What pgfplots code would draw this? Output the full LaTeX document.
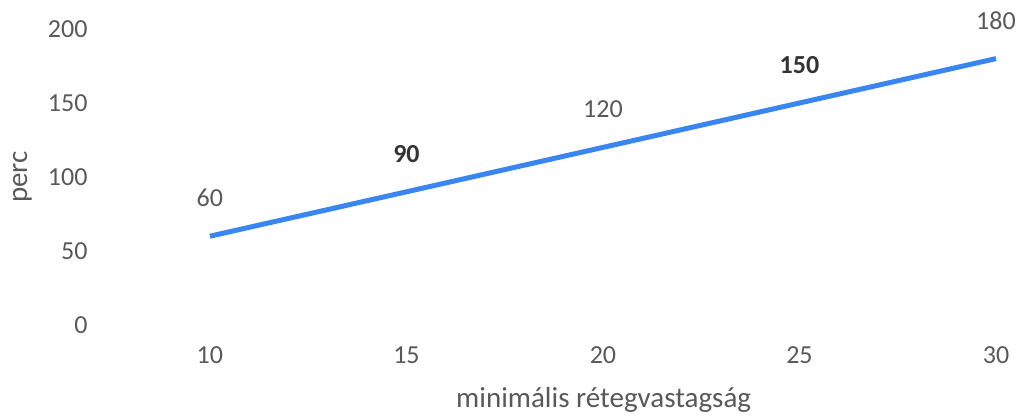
\documentclass[border=0pt]{standalone}
\usepackage{pgfplots}
\pgfplotsset{compat=1.18}
\usepackage{fontspec}
\setmainfont{Carlito}
\definecolor{txt}{HTML}{595959}
\definecolor{dark}{HTML}{333333}
\definecolor{line}{HTML}{3A86F0}
\begin{document}
\begin{tikzpicture}
\begin{axis}[
  scale only axis,
  width=904pt, height=296pt,
  xmin=7, xmax=30, ymin=0, ymax=200,
  axis line style={draw=none},
  clip=false,
  xtick={10,15,20,25,30},
  ytick={0,50,100,150,200},
  tick style={draw=none},
  /pgf/number format/assume math mode=true,
  ticklabel style={font=\fontsize{26}{30}\selectfont, text=txt},
  xticklabel style={anchor=center, yshift=-30pt},
  yticklabel style={anchor=east, xshift=-1pt},
  xlabel={minimális rétegvastagság},
  ylabel={perc},
  label style={font=\fontsize{29}{33}\selectfont, text=txt},
  xlabel style={at={(axis description cs:0.566,-0.252)}, anchor=center},
  ylabel style={at={(axis description cs:-0.077,0.5)}, anchor=center, rotate=0},
]
\addplot[line, line width=5pt] coordinates {(10,60) (15,90) (20,120) (25,150) (30,180)};
\addplot[draw=none, nodes near coords, point meta=y,
  every node near coord/.append style={anchor=center, yshift=38pt, font=\fontsize{26}{30}\selectfont, text=txt}]
  coordinates {(10,60) (20,120) (30,180)};
\addplot[draw=none, nodes near coords, point meta=y,
  every node near coord/.append style={anchor=center, yshift=38pt, font=\fontsize{26}{30}\selectfont\bfseries, text=dark}]
  coordinates {(15,90) (25,150)};
\coordinate (bl) at (rel axis cs:0,0);
\coordinate (tr) at (rel axis cs:1,1);
\end{axis}
\pgfresetboundingbox
\path ([shift={(-92pt,-90pt)}]bl) rectangle ([shift={(23pt,29pt)}]tr);
\end{tikzpicture}
\end{document}
